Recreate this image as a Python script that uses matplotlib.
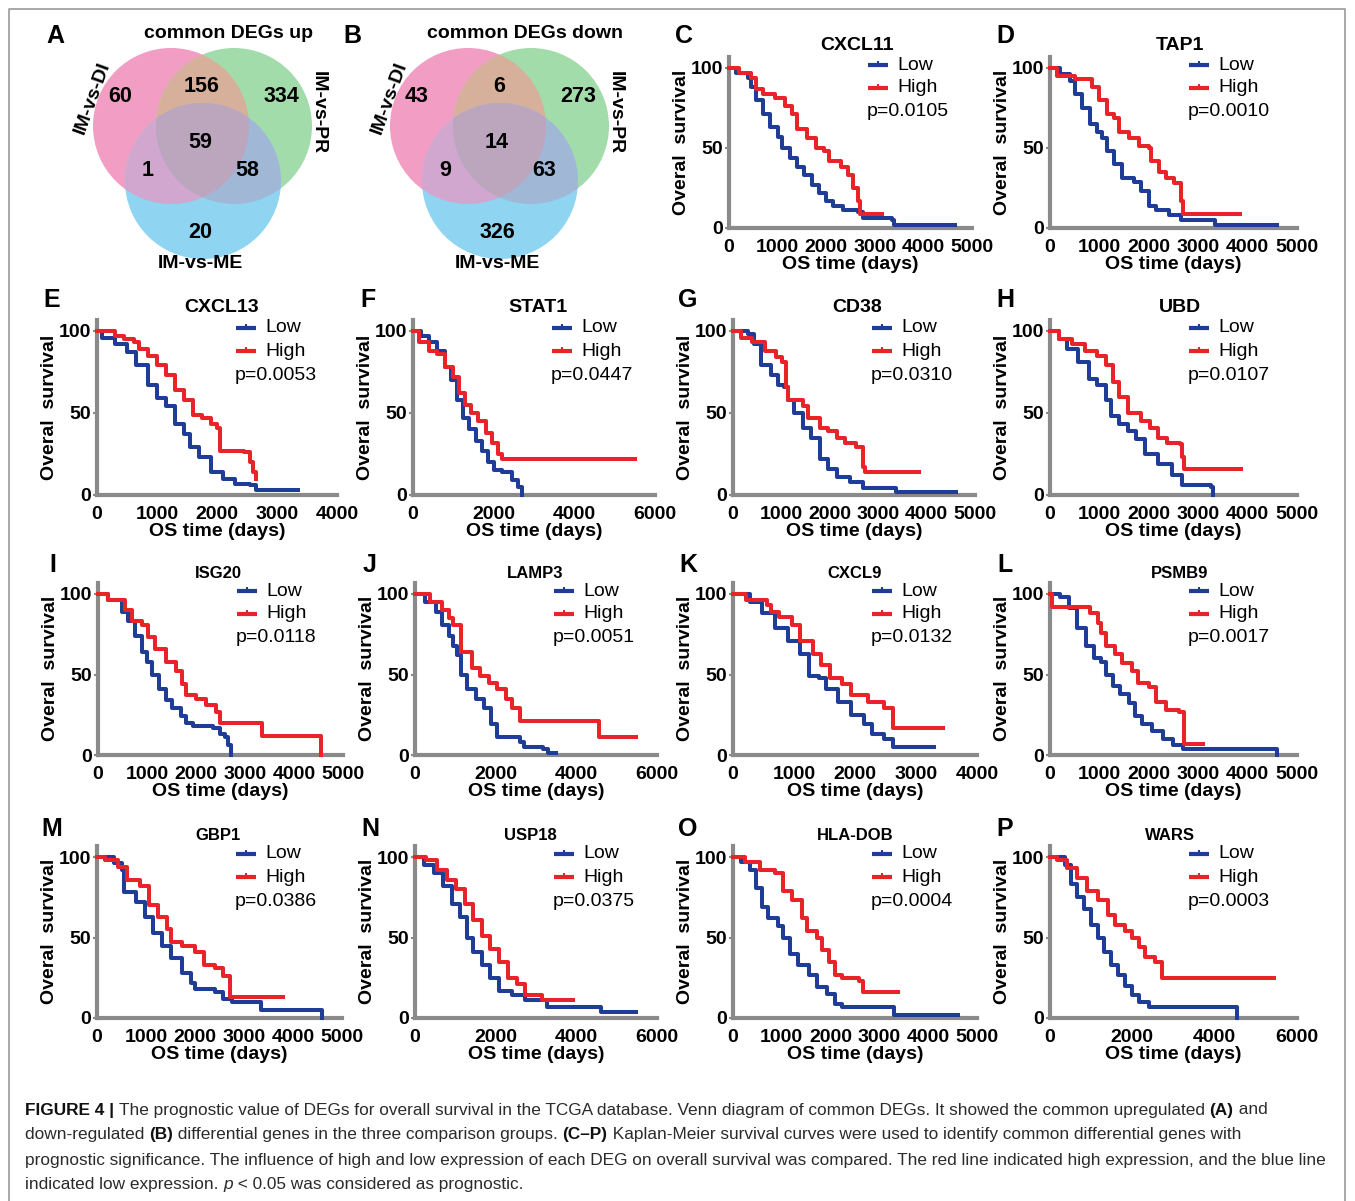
import matplotlib
matplotlib.use("Agg")
import numpy as np
import matplotlib.pyplot as plt
from matplotlib.patches import Circle, Polygon

plt.rcParams['font.family'] = ['Liberation Sans', 'DejaVu Sans']

W, H = 1355, 1201
BLUE = '#1f3c97'
RED = '#e8232a'
AXIS_GRAY = '#8a8a8a'

# =====================================================
# DATA
# =====================================================
venn_up = [60, 156, 334, 59, 1, 58, 20]      # DI, DI&PR, PR, all, DI&ME, PR&ME, ME
venn_down = [43, 6, 273, 14, 9, 63, 326]
venn_sets = ['IM-vs-DI', 'IM-vs-PR', 'IM-vs-ME']

genes = ['CXCL11', 'TAP1', 'CXCL13', 'STAT1', 'CD38', 'UBD', 'ISG20',
         'LAMP3', 'CXCL9', 'PSMB9', 'GBP1', 'USP18', 'HLA-DOB', 'WARS']
p_values = ['0.0105', '0.0010', '0.0053', '0.0447', '0.0310', '0.0107', '0.0118',
            '0.0051', '0.0132', '0.0017', '0.0386', '0.0375', '0.0004', '0.0003']
x_max = [5000, 5000, 4000, 6000, 5000, 5000, 5000, 6000, 4000, 5000, 5000, 6000, 5000, 6000]
panel_letters = list('CDEFGHIJKLMNOP')

# (days, survival %)
cxcl11_low = [(0, 100), (150, 97), (400, 94), (450, 88), (550, 80), (700, 71), (850, 63), (1000, 57),
              (1100, 50), (1250, 44), (1400, 38), (1550, 33), (1700, 27), (1850, 22), (2000, 17),
              (2150, 14), (2350, 11), (2650, 10), (2750, 6), (3350, 5), (3400, 2), (4650, 2)]
cxcl11_high = [(0, 100), (200, 97), (450, 94), (550, 87), (700, 84), (950, 81), (1150, 76), (1300, 71),
               (1400, 62), (1600, 56), (1800, 50), (1950, 48), (2050, 42), (2300, 38), (2450, 33),
               (2550, 25), (2650, 17), (2700, 9), (3150, 9)]
tap1_low = [(0, 100), (200, 96), (400, 92), (500, 84), (650, 75), (800, 65), (950, 60), (1050, 56),
            (1150, 48), (1300, 40), (1450, 31), (1700, 29), (1850, 23), (2000, 14), (2150, 11),
            (2400, 8), (2650, 5), (3300, 5), (3350, 2), (4600, 2)]
tap1_high = [(0, 100), (150, 95), (500, 93), (850, 88), (1000, 80), (1150, 71), (1300, 69), (1400, 60),
             (1600, 56), (1800, 51), (2000, 50), (2050, 42), (2200, 35), (2350, 31), (2500, 28),
             (2650, 17), (2700, 9), (3850, 9)]
cxcl13_low = [(0, 100), (80, 96), (300, 92), (500, 87), (650, 79), (850, 67), (1000, 59), (1150, 54),
              (1300, 43), (1450, 37), (1550, 29), (1700, 23), (1900, 14), (2100, 10), (2300, 7),
              (2550, 6), (2650, 3), (3350, 3)]
cxcl13_high = [(0, 100), (300, 97), (450, 95), (620, 93), (700, 89), (850, 85), (1000, 79), (1150, 73),
               (1300, 64), (1450, 58), (1600, 49), (1750, 47), (1900, 43), (2000, 41), (2050, 27),
               (2450, 26), (2550, 20), (2600, 14), (2650, 10)]
stat1_low = [(0, 100), (200, 97), (400, 93), (600, 88), (800, 78), (950, 70), (1100, 58), (1250, 47),
             (1400, 40), (1550, 33), (1700, 27), (1850, 20), (2000, 15), (2200, 14), (2450, 9),
             (2600, 5), (2700, 0)]
stat1_high = [(0, 100), (150, 93), (400, 88), (600, 86), (800, 78), (1000, 72), (1150, 62), (1300, 55),
              (1450, 50), (1600, 45), (1800, 38), (1950, 32), (2100, 25), (2200, 22), (5500, 22)]
cd38_low = [(0, 100), (300, 98), (440, 92), (570, 79), (790, 73), (920, 67), (1050, 66), (1140, 58),
            (1270, 50), (1450, 41), (1620, 35), (1800, 22), (1970, 16), (2150, 11), (2410, 8),
            (2680, 4), (3370, 2), (4600, 2)]
cd38_high = [(0, 100), (175, 96), (400, 93), (660, 88), (880, 84), (1010, 81), (1100, 66), (1140, 58),
             (1450, 54), (1540, 47), (1800, 41), (1970, 39), (2150, 35), (2320, 32), (2540, 29),
             (2680, 17), (2720, 14), (3850, 14)]
ubd_low = [(0, 100), (175, 95), (350, 89), (570, 81), (790, 71), (960, 67), (1140, 58), (1230, 48),
           (1400, 43), (1580, 39), (1750, 34), (1930, 25), (2190, 19), (2460, 12), (2680, 6),
           (3250, 5), (3300, 0)]
ubd_high = [(0, 100), (175, 95), (440, 92), (700, 88), (960, 85), (1140, 79), (1270, 69), (1400, 60),
            (1580, 50), (1840, 45), (2020, 41), (2190, 35), (2370, 32), (2630, 31), (2680, 23),
            (2720, 16), (3860, 16)]
isg20_low = [(0, 100), (200, 96), (480, 89), (620, 83), (760, 74), (900, 64), (1000, 58), (1100, 50),
             (1240, 41), (1380, 34), (1520, 29), (1690, 24), (1790, 20), (1930, 18), (2340, 17),
             (2480, 13), (2590, 11), (2650, 6), (2720, 0)]
isg20_high = [(0, 100), (200, 96), (550, 90), (690, 83), (900, 81), (1030, 73), (1170, 66), (1380, 58),
              (1590, 52), (1720, 44), (1790, 37), (2000, 35), (2210, 31), (2410, 27), (2480, 20),
              (3340, 12), (4550, 0)]
lamp3_low = [(0, 100), (260, 95), (520, 89), (680, 81), (835, 74), (940, 68), (1040, 62), (1150, 50),
             (1300, 41), (1510, 35), (1720, 29), (1880, 19), (2040, 11), (2610, 8), (2710, 5),
             (3180, 4), (3290, 1), (3500, 1)]
lamp3_high = [(0, 100), (365, 95), (680, 90), (835, 85), (940, 81), (1150, 64), (1410, 54), (1620, 49),
              (1830, 45), (2040, 41), (2250, 35), (2400, 29), (2610, 21), (4550, 11), (5480, 11)]
cxcl9_low = [(0, 100), (280, 95), (480, 88), (690, 79), (900, 71), (1100, 63), (1240, 49), (1410, 48),
             (1520, 41), (1720, 33), (1930, 25), (2140, 19), (2280, 13), (2480, 10), (2620, 5), (3300, 5)]
cxcl9_high = [(0, 100), (210, 96), (550, 93), (620, 89), (760, 86), (960, 81), (1100, 71), (1310, 63),
              (1450, 56), (1590, 48), (1790, 44), (1930, 37), (2210, 33), (2480, 29), (2620, 17), (3450, 17)]
psmb9_low = [(0, 100), (200, 98), (380, 91), (550, 79), (720, 68), (900, 60), (1030, 58), (1140, 50),
             (1280, 43), (1410, 38), (1590, 32), (1720, 24), (1860, 19), (2070, 15), (2280, 10),
             (2480, 6), (2690, 4), (4600, 0)]
psmb9_high = [(0, 100), (40, 92), (800, 88), (970, 82), (1030, 76), (1140, 68), (1310, 63), (1450, 57),
              (1660, 52), (1790, 45), (2000, 42), (2140, 33), (2340, 28), (2620, 27), (2720, 7), (3100, 7)]
gbp1_low = [(0, 100), (340, 96), (520, 92), (560, 78), (790, 72), (970, 63), (1150, 53), (1330, 45),
            (1510, 37), (1730, 28), (1910, 22), (2000, 18), (2400, 16), (2580, 12), (2760, 10),
            (3340, 5), (4600, 0)]
gbp1_high = [(0, 100), (160, 98), (430, 94), (610, 86), (880, 82), (1060, 70), (1240, 63), (1420, 55),
             (1500, 47), (1730, 45), (2000, 41), (2180, 33), (2400, 31), (2580, 26), (2720, 13), (3800, 13)]
usp18_low = [(0, 100), (215, 95), (480, 90), (700, 82), (910, 71), (1120, 63), (1290, 50), (1450, 41),
             (1660, 33), (1870, 25), (2090, 17), (2410, 14), (2730, 11), (3270, 7), (4600, 4), (5470, 4)]
usp18_high = [(0, 100), (270, 98), (540, 92), (800, 86), (1020, 80), (1230, 71), (1450, 61), (1660, 51),
              (1870, 43), (2090, 35), (2300, 25), (2520, 21), (2730, 14), (3160, 11), (3910, 11)]
hladob_low = [(0, 100), (170, 97), (340, 92), (480, 81), (590, 69), (720, 62), (930, 57), (1030, 50),
              (1170, 40), (1340, 33), (1550, 27), (1720, 19), (1930, 15), (2100, 9), (2240, 7),
              (3300, 2), (4620, 2)]
hladob_high = [(0, 100), (240, 97), (550, 92), (860, 90), (1030, 79), (1210, 73), (1410, 62), (1520, 54),
               (1720, 50), (1830, 42), (1970, 35), (2100, 27), (2240, 25), (2590, 23), (2660, 16), (3380, 16)]
wars_low = [(0, 100), (250, 100), (370, 95), (500, 83), (660, 75), (830, 68), (990, 58), (1160, 50),
            (1320, 41), (1490, 33), (1650, 27), (1820, 20), (1980, 14), (2150, 10), (2400, 7), (4550, 0)]
wars_high = [(0, 100), (165, 98), (410, 93), (660, 87), (910, 79), (1160, 73), (1400, 64), (1570, 58),
             (1820, 54), (1980, 50), (2150, 44), (2310, 38), (2560, 35), (2730, 25), (5450, 25)]

low_curves = [cxcl11_low, tap1_low, cxcl13_low, stat1_low, cd38_low, ubd_low, isg20_low,
              lamp3_low, cxcl9_low, psmb9_low, gbp1_low, usp18_low, hladob_low, wars_low]
high_curves = [cxcl11_high, tap1_high, cxcl13_high, stat1_high, cd38_high, ubd_high, isg20_high,
               lamp3_high, cxcl9_high, psmb9_high, gbp1_high, usp18_high, hladob_high, wars_high]

# =====================================================
# LAYOUT (pixel positions)
# =====================================================
axis_left = [729, 1050, 97, 413, 733, 1050, 98, 415, 733, 1050, 97, 415, 733, 1050]
axis_right = [972, 1297, 337, 655, 975, 1297, 343, 657, 977, 1297, 342, 657, 977, 1297]
panel_row = [0, 0, 1, 1, 1, 1, 2, 2, 2, 2, 3, 3, 3, 3]
row_y0 = [228, 495, 755, 1018]     # pixel of survival 0
row_y100 = [68, 331, 594, 857]     # pixel of survival 100
row_title_y = [46, 308, 573, 835]
row_letter_y = [36, 300, 565, 829]
title_x = [857, 1180, 222, 538, 857, 1180, 218, 535, 855, 1180, 218, 530, 855, 1170]
title_size = [14, 14, 14, 14, 14, 14, 12, 12, 12, 12, 12, 12, 12, 12]

fig = plt.figure(figsize=(W / 100, H / 100), dpi=100)
bg = fig.add_axes([0, 0, 1, 1])
bg.set_xlim(0, W)
bg.set_ylim(H, 0)
bg.axis('off')

# frame round the figure
bg.plot([9, 9, 1345, 1345], [1201, 9, 9, 1201], color='#9a9a9a', lw=1.2)

# =====================================================
# VENN DIAGRAMS
# =====================================================
V_PINK, V_GREEN, V_BLUE = '#f29dc3', '#a3dcab', '#8fd4f1'
V_PG, V_PB, V_GB, V_ALL = '#d6b09b', '#d1a7d0', '#a0b8d6', '#bba6be'


def venn(ox, counts, title, letter):
    r = 78
    cp, cg, cb = (ox + 171, 126), (ox + 234, 126), (ox + 203, 181)
    pink = Circle(cp, r, fc=V_PINK, ec='none')
    green = Circle(cg, r, fc=V_GREEN, ec='none')
    bg.add_patch(pink)
    bg.add_patch(green)
    bg.add_patch(Circle(cb, r, fc=V_BLUE, ec='none'))
    pg = Circle(cg, r, fc=V_PG, ec='none')
    bg.add_patch(pg)
    pg.set_clip_path(pink)
    pb = Circle(cb, r, fc=V_PB, ec='none')
    bg.add_patch(pb)
    pb.set_clip_path(pink)
    gb = Circle(cb, r, fc=V_GB, ec='none')
    bg.add_patch(gb)
    gb.set_clip_path(green)
    # triple overlap: boundary points lying inside all three circles
    ang = np.linspace(0, 2 * np.pi, 720)
    pts = []
    cs = [cp, cg, cb]
    for c in cs:
        xy = np.c_[c[0] + r * np.cos(ang), c[1] + r * np.sin(ang)]
        inside = np.all([np.hypot(xy[:, 0] - o[0], xy[:, 1] - o[1]) <= r + 0.01 for o in cs], axis=0)
        pts.append(xy[inside])
    pts = np.vstack(pts)
    m = pts.mean(axis=0)
    pts = pts[np.argsort(np.arctan2(pts[:, 1] - m[1], pts[:, 0] - m[0]))]
    bg.add_patch(Polygon(pts, closed=True, fc=V_ALL, ec='none'))

    num_pos = [(-51, 96), (31, 87), (110, 96), (29, 142), (-23, 170), (76, 170), (29, 232)]
    for (dx, y), n in zip(num_pos, counts):
        bg.text(ox + 171 + dx, y, str(n), fontsize=15.5, fontweight='bold', ha='center', va='center')
    bg.text(ox + 92, 98, venn_sets[0], fontsize=14, fontweight='bold', rotation=70,
            ha='center', va='center')
    bg.text(ox + 318, 113, venn_sets[1], fontsize=14, fontweight='bold', rotation=-90,
            ha='center', va='center')
    bg.text(ox + 200, 263, venn_sets[2], fontsize=14, fontweight='bold', ha='center', va='center')
    bg.text(ox + 228, 33, title, fontsize=14, fontweight='bold', ha='center', va='center')
    bg.text(ox + 55, 36, letter, fontsize=18, fontweight='bold', ha='center', va='center')


venn(0, venn_up, 'common DEGs up', 'A')
venn(297, venn_down, 'common DEGs down', 'B')

# =====================================================
# KAPLAN-MEIER PANELS
# =====================================================
for i, gene in enumerate(genes):
    row = panel_row[i]
    x0, xe = axis_left[i], axis_right[i]
    yb, yt = row_y0[row], row_y100[row]
    top = yb - (yb - yt) * 1.07
    ax = fig.add_axes([x0 / W, 1 - yb / H, (xe - x0) / W, (yb - top) / H])
    ax.patch.set_visible(False)

    for pts, col in ((low_curves[i], BLUE), (high_curves[i], RED)):
        t, s = zip(*pts)
        ax.step(t, s, where='post', color=col, lw=2.9, clip_on=False, zorder=3)

    ax.set_xlim(0, x_max[i])
    ax.set_ylim(0, 107)
    step = 2000 if x_max[i] == 6000 else 1000
    ax.set_xticks(np.arange(0, x_max[i] + 1, step))
    ax.set_yticks([0, 50, 100])
    for side in ('top', 'right'):
        ax.spines[side].set_visible(False)
    for side in ('left', 'bottom'):
        ax.spines[side].set_color(AXIS_GRAY)
        ax.spines[side].set_linewidth(3)
    ax.tick_params(axis='y', length=3, width=1.5, color=AXIS_GRAY, pad=1, labelsize=14)
    ax.tick_params(axis='x', length=0, pad=8, labelsize=14)
    for lab in ax.get_xticklabels() + ax.get_yticklabels():
        lab.set_fontweight('bold')
    ax.set_xlabel('OS time (days)', fontsize=14, fontweight='bold', labelpad=0)
    ax.set_ylabel('Overal  survival', fontsize=14, fontweight='bold', labelpad=1)

    # title, panel letter and legend
    bg.text(title_x[i], row_title_y[row], gene, fontsize=title_size[i], fontweight='bold',
            ha='center', va='center')
    bg.text(x0 - 45, row_letter_y[row], panel_letters[i], fontsize=18, fontweight='bold',
            ha='center', va='center')
    lx = x0 + 139
    ly = yt - 3
    for k, (lab, col) in enumerate((('Low', BLUE), ('High', RED))):
        yy = ly + 23 * k
        bg.plot([lx, lx + 20], [yy, yy], color=col, lw=3, solid_capstyle='butt')
        bg.plot([lx + 10], [yy - 1.5], marker='|', ms=4, color=col, mew=1.5)
        bg.text(lx + 29, yy, lab, fontsize=14, ha='left', va='center')
    bg.text(lx - 1, ly + 47, 'p=' + p_values[i], fontsize=14, ha='left', va='center')

# =====================================================
# CAPTION
# =====================================================
caption = [
    [('FIGURE 4 | ', 'b'), ('The prognostic value of DEGs for overall survival in the TCGA database. '
                            'Venn diagram of common DEGs. It showed the common upregulated ', 'n'),
     ('(A)', 'b'), (' and', 'n')],
    [('down-regulated ', 'n'), ('(B)', 'b'), (' differential genes in the three comparison groups. ', 'n'),
     ('(C\u2013P)', 'b'), (' Kaplan-Meier survival curves were used to identify common differential genes with', 'n')],
    [('prognostic significance. The influence of high and low expression of each DEG on overall survival '
      'was compared. The red line indicated high expression, and the blue line', 'n')],
    [('indicated low expression. ', 'n'), ('p', 'i'), (' < 0.05 was considered as prognostic.', 'n')],
]
renderer = fig.canvas.get_renderer()
for li, parts in enumerate(caption):
    x = 25
    y = 1110 + 25 * li
    for txt, style in parts:
        t = bg.text(x, y, txt, fontsize=12.4, ha='left', va='center',
                    color='#111111' if style == 'b' else '#2b2b2b',
                    fontweight='bold' if style == 'b' else 'normal',
                    fontstyle='italic' if style == 'i' else 'normal')
        x += t.get_window_extent(renderer=renderer).width

fig.savefig('out.png', dpi=100)
